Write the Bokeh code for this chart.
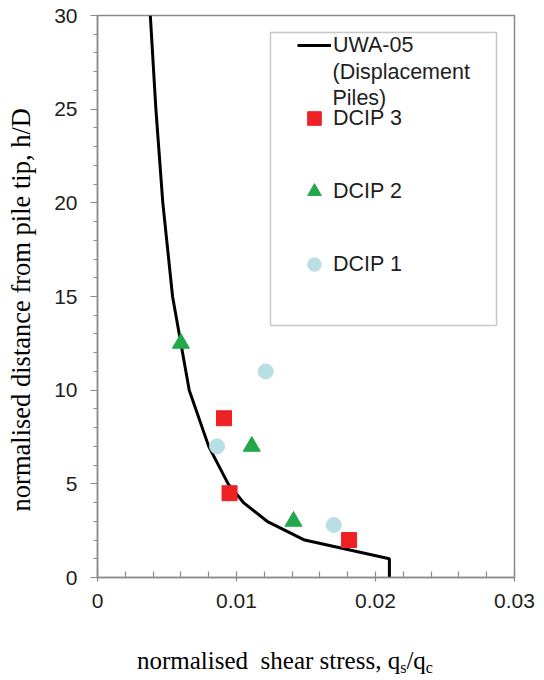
from bokeh.plotting import figure
from bokeh.layouts import column
from bokeh.models import (Range1d, FixedTicker, Legend, LegendItem, Label,
                          BoxAnnotation, Div)
from bokeh.embed import file_html
from bokeh.resources import INLINE

# ---- data ----
uwa_h = [0, 1, 2, 3, 4, 5, 7, 10, 15, 20, 25, 30]
uwa_q = [0.0210, 0.0210, 0.0149, 0.0122, 0.0105, 0.0094, 0.0080, 0.0066,
         0.0054, 0.0047, 0.0042, 0.0038]

dcip3_q = [0.0091, 0.0095, 0.0181]
dcip3_h = [8.5, 4.5, 2.0]

dcip2_q = [0.0060, 0.0111, 0.0141]
dcip2_h = [12.5, 7.0, 3.0]

dcip1_q = [0.0121, 0.0086, 0.0170]
dcip1_h = [11.0, 7.0, 2.8]

x_ticks = [0, 0.01, 0.02, 0.03]
x_tick_labels = ["0", "0.01", "0.02", "0.03"]
x_minor = [0.002, 0.004, 0.006, 0.008, 0.012, 0.014, 0.016, 0.018,
           0.022, 0.024, 0.026, 0.028]
y_ticks = [0, 5, 10, 15, 20, 25, 30]
y_minor = [v for v in range(0, 31) if v % 5 != 0]

SANS = "Liberation Sans"
SERIF = "Liberation Serif"
AXIS_GREY = "#8a8a8a"
TEXT = "#1e1e1e"

p = figure(width=544, height=630, x_range=Range1d(0, 0.03), y_range=Range1d(0, 30),
           output_backend="svg", toolbar_location=None,
           min_border_left=97, min_border_right=30, min_border_top=15,
           min_border_bottom=53)
p.background_fill_color = "white"
p.border_fill_color = "white"
p.outline_line_color = AXIS_GREY
p.outline_line_width = 1.5
p.xgrid.visible = False
p.ygrid.visible = False

# axes
p.xaxis.ticker = FixedTicker(ticks=x_ticks, minor_ticks=x_minor)
p.xaxis.major_label_overrides = dict(zip(x_ticks, x_tick_labels))
p.yaxis.ticker = FixedTicker(ticks=y_ticks, minor_ticks=y_minor)
for ax in (p.xaxis, p.yaxis):
    ax.axis_line_color = AXIS_GREY
    ax.axis_line_width = 1.5
    ax.major_tick_line_color = AXIS_GREY
    ax.minor_tick_line_color = AXIS_GREY
    ax.major_tick_line_width = 1.2
    ax.minor_tick_line_width = 1.2
    ax.major_label_text_font = SANS
    ax.major_label_text_font_size = "21px"
    ax.major_label_text_color = TEXT

p.xaxis.axis_label = None
p.xaxis.major_tick_in = 6
p.xaxis.major_tick_out = 4
p.xaxis.minor_tick_in = 6
p.xaxis.minor_tick_out = 0
p.xaxis.major_label_standoff = 12

# trailing no-break spaces nudge the (centred) title down, as in the reference
p.yaxis.axis_label = "normalised distance from pile tip, h/D\u00a0\u00a0\u00a0\u00a0"
p.yaxis.axis_label_text_font = SERIF
p.yaxis.axis_label_text_font_size = "26.5px"
p.yaxis.axis_label_text_font_style = "normal"
p.yaxis.axis_label_text_color = "black"
p.yaxis.axis_label_standoff = 15
p.yaxis.major_tick_in = 0
p.yaxis.major_tick_out = 7
p.yaxis.minor_tick_in = 0
p.yaxis.minor_tick_out = 4
p.yaxis.major_label_standoff = 13

# data
r_uwa = p.line(uwa_q, uwa_h, line_color="black", line_width=3)
r_d3 = p.scatter(dcip3_q, dcip3_h, marker="square", size=15,
                 fill_color="#ED2024", line_color="#ED2024")
r_d2 = p.scatter(dcip2_q, dcip2_h, marker="triangle", size=17,
                 fill_color="#22A84A", line_color="#22A84A")
r_d1 = p.scatter(dcip1_q, dcip1_h, marker="circle", size=15,
                 fill_color="#B8DFE3", line_color="#B8DFE3")

# legend frame
box = BoxAnnotation(left=173, right=399, top=545, bottom=252,
                    left_units="screen", right_units="screen",
                    top_units="screen", bottom_units="screen",
                    fill_color="white", fill_alpha=1.0,
                    line_color="#4a4a4a", line_width=1.5)
p.add_layout(box)

legend = Legend(items=[LegendItem(label="UWA-05", renderers=[r_uwa]),
                       LegendItem(label="DCIP 3", renderers=[r_d3]),
                       LegendItem(label="DCIP 2", renderers=[r_d2]),
                       LegendItem(label="DCIP 1", renderers=[r_d1])],
                location=(200, 295), padding=0, margin=0,
                glyph_width=34, glyph_height=36, label_height=36,
                spacing=37, label_standoff=2,
                border_line_alpha=0, background_fill_alpha=0,
                label_text_font=SANS, label_text_font_size="21.5px",
                label_text_color=TEXT)
p.add_layout(legend, "center")

for txt, yy in (("(Displacement", 506), ("Piles)", 480)):
    p.add_layout(Label(x=235, y=yy, x_units="screen", y_units="screen",
                       text=txt, text_font=SANS, text_font_size="21.5px",
                       text_color=TEXT, text_align="left",
                       text_baseline="middle"))

# x-axis title with subscripts (real HTML text)
sub = "font-size:16px;position:relative;top:4px;"
xtitle = Div(
    text=('<div style="font-family:\'Liberation Serif\',serif;font-size:25px;'
          'line-height:28px;color:#000;white-space:nowrap;'
          'padding-left:137px;padding-top:17px;">'
          'normalised&nbsp; shear stress, q<span style="' + sub + '">s</span>'
          '/q<span style="' + sub + '">c</span></div>'),
    width=544, height=50, margin=0)

layout = column(p, xtitle, spacing=0)
open("out.html", "w").write(file_html(layout, INLINE))
